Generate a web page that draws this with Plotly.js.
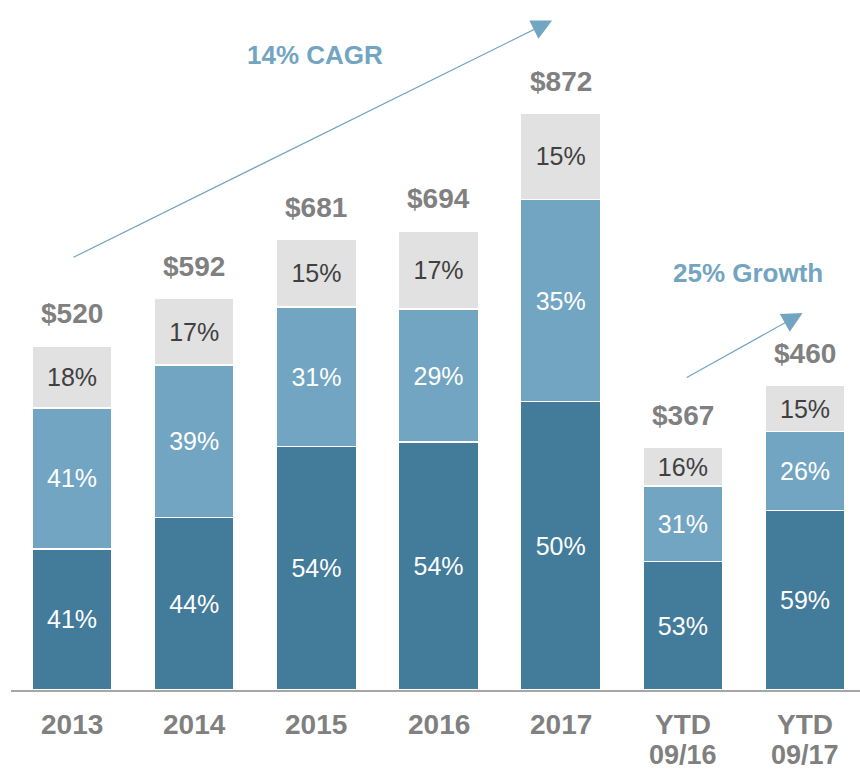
<!DOCTYPE html>
<html>
<head>
<meta charset="utf-8">
<script src="https://cdn.plot.ly/plotly-3.0.1.min.js"></script>
<style>html,body{margin:0;padding:0;background:#fff;}#chart{width:860px;height:774px;}</style>
</head>
<body>
<div id="chart"></div>
<script>
const categories = ["2013", "2014", "2015", "2016", "2017", "YTD 09/16", "YTD 09/17"];
const tickLine1 = ["2013", "2014", "2015", "2016", "2017", "YTD", "YTD"];
const tickLine2 = ["", "", "", "", "", "09/16", "09/17"];
const totals = [520, 592, 681, 694, 872, 367, 460];
const pctBottom = [41, 44, 54, 54, 50, 53, 59];
const pctMiddle = [41, 39, 31, 29, 35, 31, 26];
const pctTop = [18, 17, 15, 17, 15, 16, 15];

const FONT = 'Liberation Sans, Arial, sans-serif';
const seg = (p) => totals.map((t, i) => t * p[i] / 100);
const xs = categories.map((c, i) => i);

function trace(p, color, txtColor) {
  return {
    type: 'bar', x: xs, y: seg(p),
    text: p.map(v => v + '%'), textposition: 'inside', insidetextanchor: 'middle',
    textfont: {family: FONT, size: 25, color: txtColor},
    marker: {color: color, line: {color: '#ffffff', width: 1.5}},
    hoverinfo: 'skip', showlegend: false
  };
}

const data = [
  trace(pctBottom, '#437b9b', '#ffffff'),
  trace(pctMiddle, '#72a5c2', '#ffffff'),
  trace(pctTop, '#e1e1e1', '#404040')
];

const annotations = [];
totals.forEach((t, i) => {
  annotations.push({x: i, y: t, xref: 'x', yref: 'y', text: '<b>$' + t + '</b>', showarrow: false,
    yanchor: 'middle', yshift: 32, font: {family: FONT, size: 28, color: '#808080'}});
  annotations.push({x: i, y: 0, xref: 'x', yref: 'y', text: '<b>' + tickLine1[i] + '</b>', showarrow: false,
    yanchor: 'middle', yshift: -34, font: {family: FONT, size: 28, color: '#808080'}});
  if (tickLine2[i]) {
    annotations.push({x: i, y: 0, xref: 'x', yref: 'y', text: '<b>' + tickLine2[i] + '</b>', showarrow: false,
      yanchor: 'middle', yshift: -65, font: {family: FONT, size: 27, color: '#808080'}});
  }
});
annotations.push({x: 3.93, y: 1012, ax: 0, ay: 653, xref: 'x', yref: 'y', axref: 'x', ayref: 'y',
  text: '', showarrow: true, arrowhead: 2, arrowsize: 3.4, arrowwidth: 1.2, arrowcolor: '#72a5c2'});
annotations.push({x: 5.98, y: 570, ax: 5.02, ay: 471, xref: 'x', yref: 'y', axref: 'x', ayref: 'y',
  text: '', showarrow: true, arrowhead: 2, arrowsize: 3.4, arrowwidth: 1.2, arrowcolor: '#72a5c2'});
annotations.push({x: 1.99, y: 960, xref: 'x', yref: 'y', text: '<b>14% CAGR</b>', showarrow: false,
  font: {family: FONT, size: 26, color: '#72a5c2'}});
annotations.push({x: 5.53, y: 630, xref: 'x', yref: 'y', text: '<b>25% Growth</b>', showarrow: false,
  font: {family: FONT, size: 26, color: '#72a5c2'}});

const layout = {
  width: 860, height: 774,
  margin: {l: 11, r: 0, t: 0, b: 84},
  barmode: 'stack', bargap: 0.345,
  paper_bgcolor: '#ffffff', plot_bgcolor: '#ffffff',
  xaxis: {range: [-0.5, 6.45], tickvals: xs, ticktext: categories, showticklabels: false,
    showline: true, linecolor: '#a6a6a6', linewidth: 1.5, showgrid: false, zeroline: false, fixedrange: true},
  yaxis: {range: [0, 1043], visible: false, showgrid: false, zeroline: false, fixedrange: true},
  annotations: annotations,
  uniformtext: {mode: 'show', minsize: 25}
};

Plotly.newPlot('chart', data, layout, {displayModeBar: false, staticPlot: true});
</script>
</body>
</html>
